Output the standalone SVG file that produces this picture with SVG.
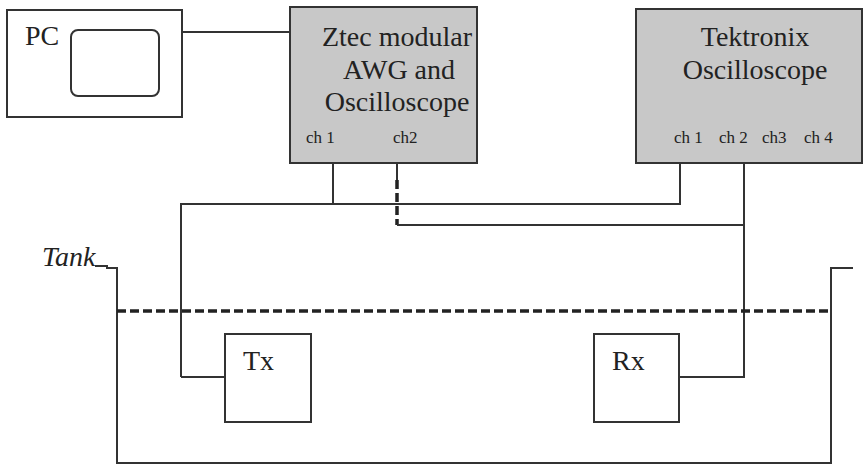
<svg xmlns="http://www.w3.org/2000/svg" width="866" height="465" viewBox="0 0 866 465">
<style>
.box{fill:#fff;stroke:#333;stroke-width:2}
.gray{fill:#c8c8c8;stroke:#333;stroke-width:2}
.ln{fill:none;stroke:#333;stroke-width:2}
.dash{fill:none;stroke:#222;stroke-width:3.5;stroke-dasharray:9,4}
.t{font-size:28px;fill:#222}
.s{font-size:17px;fill:#222}
</style>
<rect width="866" height="465" fill="#fff"/>
<g id="connectors">
<line class="ln" x1="182" y1="32" x2="290" y2="32"/>
<polyline class="ln" points="333,163 333,204"/>
<polyline class="ln" points="181,377 181,204 680,204 680,163"/>
<line class="ln" x1="181" y1="377" x2="225" y2="377"/>
<line class="ln" x1="397" y1="163" x2="397" y2="180"/>
<line class="dash" x1="397" y1="180" x2="397" y2="225"/>
<polyline class="ln" points="397,225 744,225"/>
<polyline class="ln" points="744,163 744,377 679,377"/>
</g>
<g id="tank" font-family="'Liberation Serif', 'Times New Roman', serif">
<polyline class="ln" points="95,266 107,266 107,268 117,268 117,463 831,463 831,268 853,268"/>
<line class="dash" x1="117" y1="311" x2="831" y2="311"/>
<text class="t" x="42" y="266" font-style="italic" font-size="26">Tank</text>
</g>
<g id="pc" font-family="'Liberation Serif', 'Times New Roman', serif">
<rect class="box" x="7" y="10" width="175" height="107"/>
<rect class="box" x="71" y="30" width="88" height="66" rx="7"/>
<text class="t" x="25" y="45">PC</text>
</g>
<g id="ztec" font-family="'Liberation Serif', 'Times New Roman', serif">
<rect class="gray" x="290" y="7" width="187" height="156"/>
<text class="t" x="397" y="46" text-anchor="middle">Ztec modular</text>
<text class="t" x="399" y="79" text-anchor="middle">AWG and</text>
<text class="t" x="397" y="111" text-anchor="middle">Oscilloscope</text>
<text class="s" x="306" y="143">ch 1</text>
<text class="s" x="393" y="143">ch2</text>
</g>
<g id="tektronix" font-family="'Liberation Serif', 'Times New Roman', serif">
<rect class="gray" x="636" y="9" width="226" height="154"/>
<text class="t" x="755" y="46" text-anchor="middle">Tektronix</text>
<text class="t" x="755" y="79" text-anchor="middle">Oscilloscope</text>
<text class="s" x="674" y="143">ch 1</text>
<text class="s" x="719" y="143">ch 2</text>
<text class="s" x="762" y="143">ch3</text>
<text class="s" x="804" y="143">ch 4</text>
</g>
<g id="tx" font-family="'Liberation Serif', 'Times New Roman', serif">
<rect class="box" x="225" y="334" width="86" height="88"/>
<text class="t" x="243" y="370">Tx</text>
</g>
<g id="rx" font-family="'Liberation Serif', 'Times New Roman', serif">
<rect class="box" x="594" y="334" width="85" height="88"/>
<text class="t" x="612" y="370">Rx</text>
</g>
</svg>
